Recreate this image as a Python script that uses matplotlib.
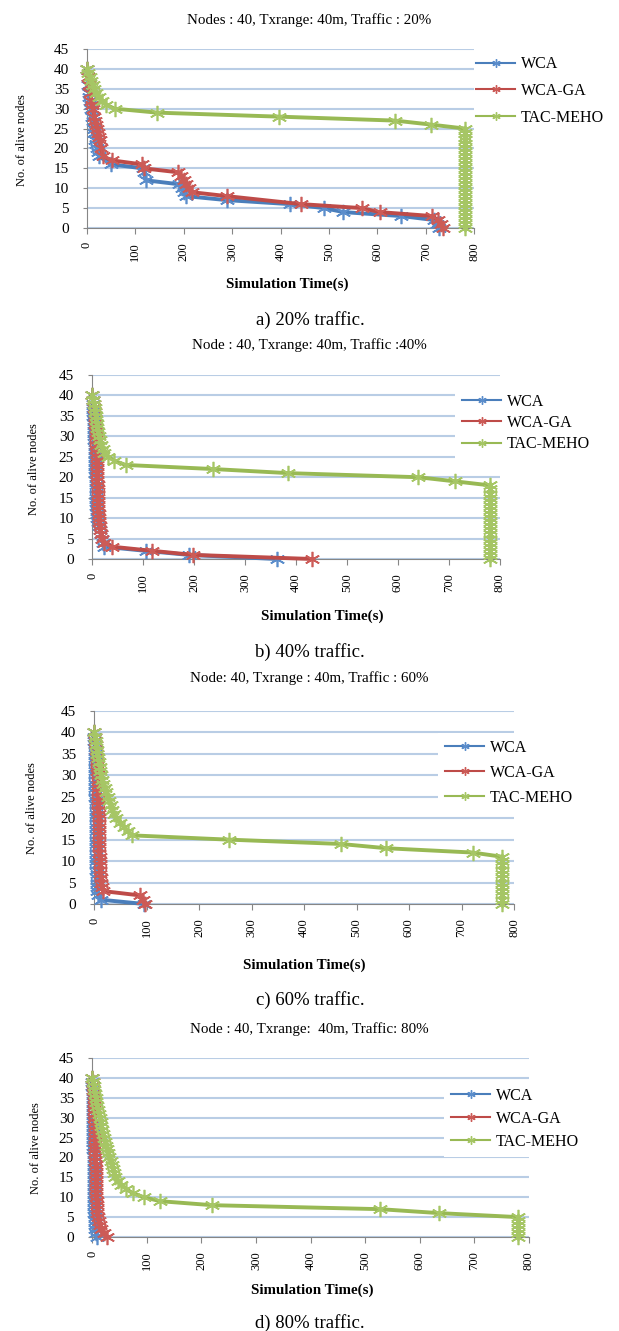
import matplotlib
matplotlib.use("Agg")
import matplotlib.pyplot as plt
from matplotlib.lines import Line2D

plt.rcParams['font.family'] = ['Liberation Serif', 'DejaVu Serif']

# ---------------- data ----------------
# a) 20% traffic
wca_20_t = [0, 2, 3, 4, 5, 6, 8, 9, 11, 12, 14, 15, 17, 19, 21, 23, 25, 50, 115, 118, 121,
            190, 196, 200, 205, 290, 420, 490, 530, 650, 718, 724, 727]
wca_20_n = [40, 38, 36, 34, 33, 32, 31, 30, 28, 27, 25, 24, 22, 21, 20, 19, 18, 16, 15, 14, 12,
            11, 10, 9, 8, 7, 6, 5, 4, 3, 2, 1, 0]
wcaga_20_t = [0, 3, 5, 7, 9, 11, 13, 15, 17, 19, 21, 23, 25, 27, 29, 33, 52, 113, 117,
              189, 195, 200, 205, 211, 217, 290, 443, 568, 605, 714, 725, 732, 736]
wcaga_20_n = [40, 38, 36, 34, 32, 31, 30, 28, 27, 26, 25, 24, 23, 22, 20, 18, 17, 16, 15,
              14, 13, 12, 11, 10, 9, 8, 6, 5, 4, 3, 2, 1, 0]
tac_20_t = [0, 3, 6, 9, 12, 15, 19, 24, 32, 40, 57, 145, 396, 637, 711, 781,
            781, 781, 781, 781, 781, 781, 781, 781, 781, 781, 781, 781, 781,
            781, 781, 781, 781, 781, 781, 781, 781, 781, 781, 781, 781]
tac_20_n = [40, 39, 38, 37, 36, 35, 34, 33, 32, 31, 30, 29, 28, 27, 26, 25,
            24, 23, 22, 21, 20, 19, 18, 17, 16, 15, 14, 13, 12,
            11, 10, 9, 8, 7, 6, 5, 4, 3, 2, 1, 0]

# b) 40% traffic
wca_40_t = [0, 1, 1, 2, 2, 2, 3, 3, 3, 4, 4, 4, 5, 5, 5, 5, 6, 6, 6, 6,
            7, 7, 7, 7, 8, 8, 8, 8, 9, 9, 10, 11, 13, 15, 17, 19, 21, 24, 105, 190, 362]
wca_40_n = [40, 39, 38, 37, 36, 35, 34, 33, 32, 31, 30, 29, 28, 27, 26, 25, 24, 23, 22, 21,
            20, 19, 18, 17, 16, 15, 14, 13, 12, 11, 10, 9, 8, 7, 6, 5, 4, 3, 2, 1, 0]
wcaga_40_t = [0, 2, 3, 4, 5, 5, 6, 6, 7, 7, 7, 8, 8, 8, 9, 9, 9, 9, 10, 10,
              10, 10, 11, 11, 11, 11, 12, 12, 12, 13, 13, 14, 15, 16, 18, 20, 24, 40, 118, 199, 432]
wcaga_40_n = [40, 39, 38, 37, 36, 35, 34, 33, 32, 31, 30, 29, 28, 27, 26, 25, 24, 23, 22, 21,
              20, 19, 18, 17, 16, 15, 14, 13, 12, 11, 10, 9, 8, 7, 6, 5, 4, 3, 2, 1, 0]
tac_40_t = [0, 2, 4, 5, 6, 7, 8, 9, 10, 12, 14, 16, 18, 21, 24, 32, 44, 66, 238, 385, 640, 711, 781,
            781, 781, 781, 781, 781, 781, 781, 781, 781,
            781, 781, 781, 781, 781, 781, 781, 781, 781]
tac_40_n = [40, 39, 38, 37, 36, 35, 34, 33, 32, 31, 30, 29, 28, 27, 26, 25, 24, 23, 22, 21, 20, 19, 18,
            17, 16, 15, 14, 13, 12, 11, 10, 9,
            8, 7, 6, 5, 4, 3, 2, 1, 0]

# c) 60% traffic
wca_60_t = [0, 0, 0, 1, 1, 1, 1, 1, 1, 2, 2, 2, 2, 2, 2, 2, 3, 3, 3, 3,
            3, 3, 3, 3, 3, 3, 4, 4, 4, 4, 4, 4, 4, 5, 5, 5, 5, 6, 7, 13, 96]
wca_60_n = [40, 39, 38, 37, 36, 35, 34, 33, 32, 31, 30, 29, 28, 27, 26, 25, 24, 23, 22, 21,
            20, 19, 18, 17, 16, 15, 14, 13, 12, 11, 10, 9, 8, 7, 6, 5, 4, 3, 2, 1, 0]
wcaga_60_t = [0, 1, 2, 3, 4, 5, 5, 6, 6, 6, 7, 7, 7, 7, 8, 8, 8, 8, 8, 9,
              9, 9, 9, 9, 10, 10, 10, 10, 10, 11, 11, 11, 12, 12, 13, 14, 15, 18, 88, 93, 97]
wcaga_60_n = [40, 39, 38, 37, 36, 35, 34, 33, 32, 31, 30, 29, 28, 27, 26, 25, 24, 23, 22, 21,
              20, 19, 18, 17, 16, 15, 14, 13, 12, 11, 10, 9, 8, 7, 6, 5, 4, 3, 2, 1, 0]
tac_60_t = [0, 2, 3, 4, 5, 6, 8, 10, 11, 12, 14, 16, 18, 20, 23, 26, 29, 32, 35, 38,
            42, 50, 57, 64, 73, 258, 470, 557, 721, 778,
            778, 778, 778, 778, 778, 778, 778, 778, 778, 778, 778]
tac_60_n = [40, 39, 38, 37, 36, 35, 34, 33, 32, 31, 30, 29, 28, 27, 26, 25, 24, 23, 22, 21,
            20, 19, 18, 17, 16, 15, 14, 13, 12, 11,
            10, 9, 8, 7, 6, 5, 4, 3, 2, 1, 0]

# d) 80% traffic
wca_80_t = [0, 0, 0, 1, 1, 1, 1, 1, 1, 1, 2, 2, 2, 2, 2, 2, 2, 2, 2, 3,
            3, 3, 3, 3, 3, 3, 3, 3, 4, 4, 4, 4, 4, 4, 4, 5, 5, 5, 6, 7, 9]
wca_80_n = [40, 39, 38, 37, 36, 35, 34, 33, 32, 31, 30, 29, 28, 27, 26, 25, 24, 23, 22, 21,
            20, 19, 18, 17, 16, 15, 14, 13, 12, 11, 10, 9, 8, 7, 6, 5, 4, 3, 2, 1, 0]
wcaga_80_t = [0, 1, 2, 2, 3, 3, 3, 4, 4, 4, 4, 5, 5, 5, 5, 5, 6, 6, 6, 6,
              6, 6, 7, 7, 7, 7, 7, 8, 8, 8, 8, 9, 9, 10, 10, 11, 12, 14, 17, 22, 27]
wcaga_80_n = [40, 39, 38, 37, 36, 35, 34, 33, 32, 31, 30, 29, 28, 27, 26, 25, 24, 23, 22, 21,
              20, 19, 18, 17, 16, 15, 14, 13, 12, 11, 10, 9, 8, 7, 6, 5, 4, 3, 2, 1, 0]
tac_80_t = [0, 2, 3, 4, 5, 7, 8, 10, 11, 13, 14, 16, 17, 19, 20, 22, 24, 26, 28, 30,
            32, 34, 36, 38, 40, 42, 48, 54, 63, 75, 95, 125, 220, 527, 636, 780,
            780, 780, 780, 780, 780]
tac_80_n = [40, 39, 38, 37, 36, 35, 34, 33, 32, 31, 30, 29, 28, 27, 26, 25, 24, 23, 22, 21,
            20, 19, 18, 17, 16, 15, 14, 13, 12, 11, 10, 9, 8, 7, 6, 5,
            4, 3, 2, 1, 0]

series_names = ["WCA", "WCA-GA", "TAC-MEHO"]
titles = ["Nodes : 40, Txrange: 40m, Traffic : 20%",
          "Node : 40, Txrange: 40m, Traffic :40%",
          "Node: 40, Txrange : 40m, Traffic : 60%",
          "Node : 40, Txrange:  40m, Traffic: 80%"]
captions = ["a) 20% traffic.", "b) 40% traffic.", "c) 60% traffic.", "d) 80% traffic."]
x_ticks = [0, 100, 200, 300, 400, 500, 600, 700, 800]
y_ticks = [0, 5, 10, 15, 20, 25, 30, 35, 40, 45]

panels = [
    [(wca_20_t, wca_20_n), (wcaga_20_t, wcaga_20_n), (tac_20_t, tac_20_n)],
    [(wca_40_t, wca_40_n), (wcaga_40_t, wcaga_40_n), (tac_40_t, tac_40_n)],
    [(wca_60_t, wca_60_n), (wcaga_60_t, wcaga_60_n), (tac_60_t, tac_60_n)],
    [(wca_80_t, wca_80_n), (wcaga_80_t, wcaga_80_n), (tac_80_t, tac_80_n)],
]

# ---------------- layout (pixels, measured from top-left) ----------------
W, H = 619, 1331
ax_px = [(87, 474, 49, 228), (92, 500, 375, 559), (94, 514, 711, 904), (92, 529, 1058, 1237)]
title_y = [20, 345, 678, 1029]
xlab_pos = [(287, 284), (322, 616), (304, 965), (312, 1290)]
ylab_pos = [(22, 140), (34, 469), (32, 808), (36, 1148)]
cap_y = [320, 652, 1000, 1323]
leg_x = [476, 462, 445, 451]
leg_ymid = [91, 423, 773, 1119]
leg_space = [0.66, 0.34, 0.56, 0.44]
leg_frame = [False, True, True, True]

line_cols = ['#4A7EBB', '#BE4B48', '#98B954']
mark_cols = ['#5B8DCB', '#CC5B57', '#A6C665']
star = (6, 2, 0)

fig = plt.figure(figsize=(W / 100, H / 100), dpi=100)

for i in range(4):
    l, r, t, b = ax_px[i]
    ax = fig.add_axes([l / W, 1 - b / H, (r - l) / W, (b - t) / H])

    for k in range(3):
        tt, nn = panels[i][k]
        ax.plot(tt, nn, color=line_cols[k], lw=2.8, marker=star, ms=11, mew=1.2,
                mec=mark_cols[k], solid_joinstyle='round', clip_on=False, zorder=3 + k)

    ax.set_xlim(0, 800)
    ax.set_ylim(0, 45)
    ax.set_xticks(x_ticks)
    ax.set_yticks(y_ticks)
    ax.set_xticklabels([str(v) for v in x_ticks], rotation=90, fontsize=9)
    ax.set_yticklabels([str(v) for v in y_ticks], fontsize=11)
    ax.tick_params(axis='x', direction='out', length=4, color='#868686', pad=6)
    ax.tick_params(axis='y', direction='out', length=3, color='#868686', pad=10)

    ax.yaxis.grid(True, color='#B9CDE5', lw=1.5)
    ax.set_axisbelow(True)
    for s in ['top', 'right']:
        ax.spines[s].set_visible(False)
    for s in ['left', 'bottom']:
        ax.spines[s].set_color('#868686')

    # legend (thin lines, small stars like the Excel one)
    handles = [Line2D([], [], color=line_cols[k], lw=1.5, marker=star, ms=6, mew=1,
                      mec=mark_cols[k]) for k in range(3)]
    leg = ax.legend(handles, series_names, loc='center left',
                    bbox_to_anchor=((leg_x[i] - 7) / W, 1 - leg_ymid[i] / H),
                    bbox_transform=fig.transFigure, fontsize=11.5, frameon=leg_frame[i],
                    borderaxespad=0, borderpad=0.45, handlelength=2.45, handletextpad=0.35,
                    labelspacing=leg_space[i], fancybox=False)
    if leg_frame[i]:
        leg.get_frame().set_facecolor('white')
        leg.get_frame().set_edgecolor('none')
        leg.get_frame().set_alpha(1)

    fig.text(309.5 / W, 1 - title_y[i] / H, titles[i], ha='center', va='center', fontsize=10.8)
    fig.text(xlab_pos[i][0] / W, 1 - xlab_pos[i][1] / H, "Simulation Time(s)",
             ha='center', va='center', fontsize=10.8, fontweight='bold')
    fig.text(ylab_pos[i][0] / W, 1 - ylab_pos[i][1] / H, "No. of alive nodes",
             ha='center', va='center', fontsize=9, rotation=90)
    fig.text(310 / W, 1 - cap_y[i] / H, captions[i], ha='center', va='center', fontsize=13.5)

fig.savefig("out.png", dpi=100)
